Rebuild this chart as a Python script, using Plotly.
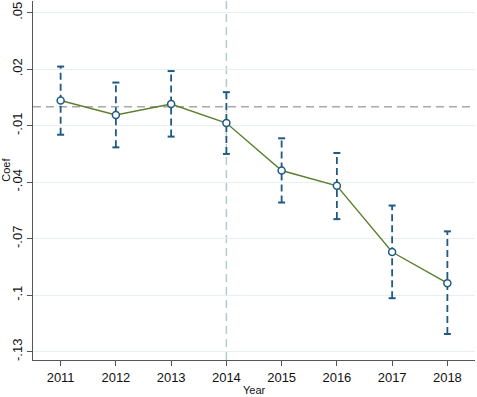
import plotly.graph_objects as go

years = [2011, 2012, 2013, 2014, 2015, 2016, 2017, 2018]
coef = [0.0034, -0.0043, 0.0015, -0.0086, -0.0338, -0.0419, -0.0771, -0.0936]
upper = [0.0214, 0.0129, 0.0190, 0.0078, -0.0167, -0.0245, -0.0524, -0.0661]
lower = [-0.0148, -0.0215, -0.0158, -0.0250, -0.0508, -0.0596, -0.1016, -0.1206]
ytick_vals = [0.05, 0.02, -0.01, -0.04, -0.07, -0.10, -0.13]
ytick_text = [".05", ".02", "-.01", "-.04", "-.07", "-.1", "-.13"]
ref_year = 2014
ref_coef = 0.0

blue = "#1f5a85"
green = "#5b7f2e"

fig = go.Figure()

# dashed CI segments
ex, ey = [], []
for x, lo, hi in zip(years, lower, upper):
    ex += [x, x, None]
    ey += [lo, hi, None]
fig.add_trace(go.Scatter(x=ex, y=ey, mode="lines",
                         line=dict(color=blue, width=1.8, dash="7px,4px"),
                         hoverinfo="skip", showlegend=False))
# caps
fig.add_trace(go.Scatter(x=years + years, y=lower + upper, mode="markers",
                         marker=dict(symbol="line-ew", size=5,
                                     line=dict(color=blue, width=2)),
                         hoverinfo="skip", showlegend=False))
# coefficient line
fig.add_trace(go.Scatter(x=years, y=coef, mode="lines",
                         line=dict(color=green, width=1.4), showlegend=False))
fig.add_trace(go.Scatter(x=years, y=coef, mode="markers",
                         marker=dict(symbol="circle", size=7, color="white",
                                     line=dict(color=blue, width=1.5)),
                         showlegend=False))

fig.add_hline(y=ref_coef, line=dict(color="#a8a8a8", width=1.5, dash="8px,5px"), layer="below")
fig.add_vline(x=ref_year, line=dict(color="#b4cccc", width=1.5, dash="8px,5px"), layer="below")

fig.update_layout(
    width=477, height=397,
    margin=dict(l=33, r=2, t=1, b=37, autoexpand=False),
    paper_bgcolor="white", plot_bgcolor="white",
    font=dict(family="Liberation Sans, Arial, sans-serif", size=12, color="#111111"),
    xaxis=dict(range=[2010.5, 2018.5], tickvals=years, ticktext=[str(y) for y in years],
               showgrid=False, zeroline=False, showline=True, linecolor="#555555",
               linewidth=1.2, ticks="outside", ticklen=5, tickcolor="#555555",
               tickfont=dict(size=13), automargin=False),
    yaxis=dict(range=[-0.1344, 0.0562], tickvals=ytick_vals, ticktext=ytick_text,
               tickangle=-90, showgrid=True, gridcolor="#e6f0f1", gridwidth=1,
               zeroline=False, showline=True, linecolor="#555555", linewidth=1.2,
               ticks="outside", ticklen=5, tickcolor="#555555",
               tickfont=dict(size=13), automargin=False),
    annotations=[
        dict(text="Year", xref="paper", yref="paper", x=0.5, y=0, yshift=-30,
             xanchor="center", yanchor="middle", showarrow=False, font=dict(size=11)),
        dict(text="Coef", xref="paper", yref="paper", x=0, y=0.53, xshift=-27,
             xanchor="center", yanchor="middle", textangle=-90, showarrow=False,
             font=dict(size=11)),
    ],
)

fig.write_html("out.html", config={"displayModeBar": False},
               post_script="document.body.style.margin='0';document.body.style.overflow='hidden';")
